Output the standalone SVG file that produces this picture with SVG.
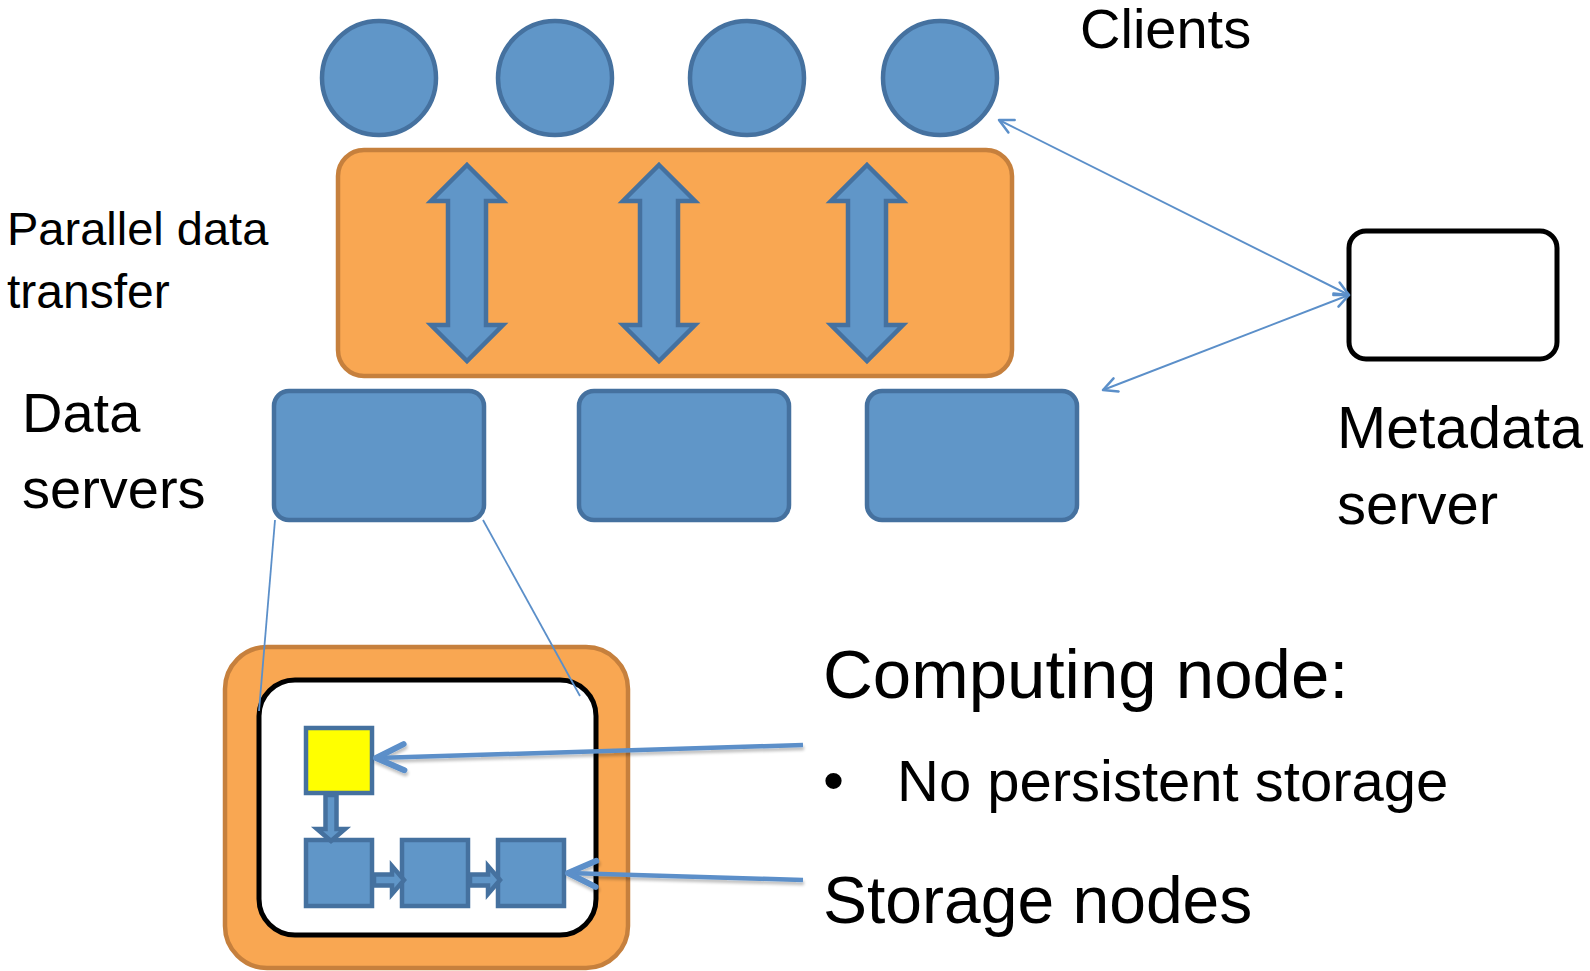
<svg xmlns="http://www.w3.org/2000/svg" width="1590" height="971" viewBox="0 0 1590 971">
<style>
.blue{fill:#6096C8;stroke:#45719F;stroke-width:4.5}
.orange{fill:#F9A752;stroke:#C6803D;stroke-width:4.5}
.txt{font-family:"Liberation Sans",Arial,sans-serif;fill:#000}
.thin{stroke:#5B8FC9;stroke-width:2;fill:none}
.thick{stroke:#5B8FC9;stroke-width:4.5;fill:none}
</style>
<defs>
<marker id="openS" viewBox="-16 -10 20 20" markerWidth="20" markerHeight="20" refX="0" refY="0" orient="auto-start-reverse" markerUnits="userSpaceOnUse">
<path d="M-14,-7 L0,0 L-14,7" fill="none" stroke="#5B8FC9" stroke-width="2.5" stroke-linecap="round" stroke-linejoin="round"/>
</marker>
<marker id="openL" viewBox="-34 -18 38 36" markerWidth="38" markerHeight="36" refX="0" refY="0" orient="auto" markerUnits="userSpaceOnUse">
<path d="M-28,-13 L0,0 L-28,13" fill="none" stroke="#5B8FC9" stroke-width="6" stroke-linecap="round" stroke-linejoin="round"/>
</marker>
<filter id="sh" x="-10%" y="-50%" width="120%" height="200%">
<feGaussianBlur in="SourceAlpha" stdDeviation="1.5"/>
<feOffset dx="1" dy="3" result="b"/>
<feComponentTransfer><feFuncA type="linear" slope="0.25"/></feComponentTransfer>
<feMerge><feMergeNode/><feMergeNode in="SourceGraphic"/></feMerge>
</filter>
</defs>
<rect width="1590" height="971" fill="#fff"/>

<g id="clients">
<circle class="blue" cx="379" cy="78" r="57"/>
<circle class="blue" cx="555" cy="78" r="57"/>
<circle class="blue" cx="747" cy="78" r="57"/>
<circle class="blue" cx="940" cy="78" r="57"/>
<text class="txt" x="1080" y="48" font-size="56">Clients</text>
</g>

<g id="transfer">
<rect class="orange" x="338" y="150" width="674" height="226" rx="26"/>
<path class="blue" d="M467,165 L503,201 L486,201 L486,325 L503,325 L467,361 L431,325 L448,325 L448,201 L431,201 Z"/>
<path class="blue" d="M659,165 L695,201 L678,201 L678,325 L695,325 L659,361 L623,325 L640,325 L640,201 L623,201 Z"/>
<path class="blue" d="M867,165 L903,201 L886,201 L886,325 L903,325 L867,361 L831,325 L848,325 L848,201 L831,201 Z"/>
<text class="txt" x="7" y="245" font-size="47">Parallel data</text>
<text class="txt" x="7" y="308" font-size="48">transfer</text>
</g>

<g id="data-servers">
<rect class="blue" x="274" y="391" width="210" height="129" rx="15"/>
<rect class="blue" x="579" y="391" width="210" height="129" rx="15"/>
<rect class="blue" x="867" y="391" width="210" height="129" rx="15"/>
<text class="txt" x="22" y="432" font-size="56">Data</text>
<text class="txt" x="22" y="508" font-size="56">servers</text>
</g>

<g id="metadata-server">
<rect x="1349" y="231" width="208" height="128" rx="17" fill="#fff" stroke="#000" stroke-width="5"/>
<text class="txt" x="1337" y="448" font-size="59">Metadata</text>
<text class="txt" x="1337" y="524" font-size="58">server</text>
</g>

<g id="computing-node">
<rect class="orange" x="225" y="647" width="403" height="321" rx="42"/>
<rect x="259" y="680" width="337" height="255" rx="36" fill="#fff" stroke="#000" stroke-width="5"/>
<rect x="306" y="728" width="66" height="65" fill="#FFFF00" stroke="#45719F" stroke-width="4.5"/>
<rect class="blue" x="306" y="840" width="66" height="66"/>
<rect class="blue" x="402" y="840" width="66" height="66"/>
<rect class="blue" x="498" y="840" width="66" height="66"/>
<path class="blue" stroke-width="3" d="M325.5,795 L336.5,795 L336.5,829 L345,829 L331,841 L317,829 L325.5,829 Z"/>
<path class="blue" stroke-width="3" d="M374,874.5 L392,874.5 L392,866 L404,880 L392,894 L392,885.5 L374,885.5 Z"/>
<path class="blue" stroke-width="3" d="M470,874.5 L488,874.5 L488,866 L500,880 L488,894 L488,885.5 L470,885.5 Z"/>
<text class="txt" x="823" y="698" font-size="69">Computing node:</text>
<text class="txt" x="823" y="801" font-size="60">•</text>
<text class="txt" x="897" y="801" font-size="58">No persistent storage</text>
<text class="txt" x="823" y="923" font-size="66">Storage nodes</text>
</g>

<g id="connectors">
<line class="thin" x1="1349" y1="295" x2="999" y2="120" marker-start="url(#openS)" marker-end="url(#openS)"/>
<line class="thin" x1="1349" y1="295" x2="1103" y2="390" marker-start="url(#openS)" marker-end="url(#openS)"/>
<line stroke="#5B8FC9" stroke-width="1.8" x1="275" y1="520" x2="259" y2="711"/>
<line stroke="#5B8FC9" stroke-width="1.8" x1="483" y1="520" x2="580" y2="696"/>
<g filter="url(#sh)">
<line class="thick" x1="803" y1="745" x2="376" y2="758" marker-end="url(#openL)"/>
<line class="thick" x1="803" y1="880" x2="568" y2="873" marker-end="url(#openL)"/>
</g>
</g>
</svg>
